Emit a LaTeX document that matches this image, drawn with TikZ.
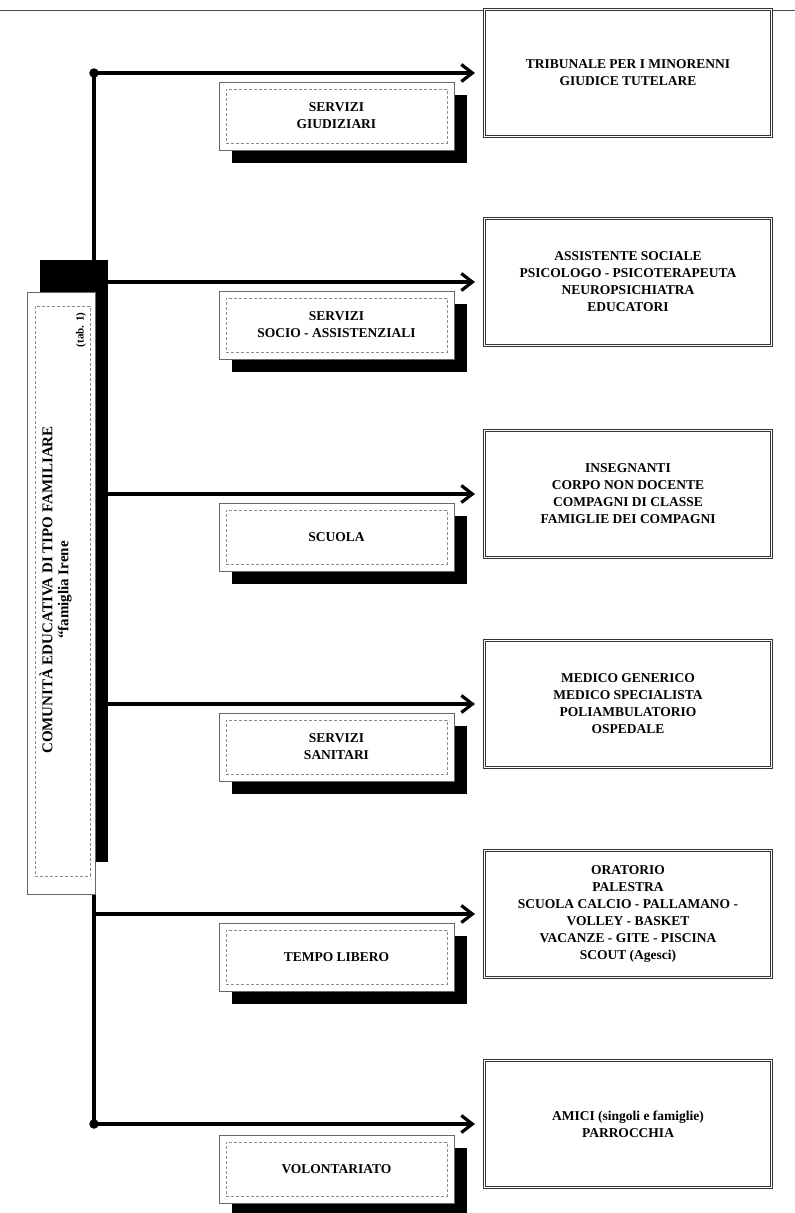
\documentclass[tikz,border=0pt]{standalone}
\usepackage{fontspec}
\setmainfont{Liberation Serif}
\usetikzlibrary{arrows.meta,shadows}
\begin{document}
\begin{tikzpicture}[x=1pt,y=-1pt,
  every node/.style={font=\bfseries\fontsize{13.5}{17}\selectfont, inner sep=0pt},
  conn/.style={line width=3.2pt, black},
  arr/.style={conn, -{Straight Barb[length=11pt,width=17pt]}, shorten >=9pt},
  catbox/.style={draw=black!60, line width=0.8pt, fill=white, minimum width=235pt, minimum height=68pt,
    drop shadow={shadow xshift=13pt, shadow yshift=-13pt, opacity=1, fill=black}},
  catin/.style={draw=black!45, densely dashed, line width=0.5pt, minimum width=221pt, minimum height=54pt, align=center},
  resbox/.style={draw=black!80, line width=1.1pt, double=white, double distance=1.6pt,
    minimum width=287pt, minimum height=127pt, align=center},
  dot/.style={circle, fill=black, minimum size=9.5pt}
]
\useasboundingbox (0,0) rectangle (795,1213);
\draw[black!70, line width=0.8pt] (0,10) -- (795,10);

% result boxes
\node[resbox] (r1) at (628,73) {TRIBUNALE PER I MINORENNI\\GIUDICE TUTELARE};
\node[resbox] (r2) at (628,282) {ASSISTENTE SOCIALE\\PSICOLOGO - PSICOTERAPEUTA\\NEUROPSICHIATRA\\EDUCATORI};
\node[resbox] (r3) at (628,494) {INSEGNANTI\\CORPO NON DOCENTE\\COMPAGNI DI CLASSE\\FAMIGLIE DEI COMPAGNI};
\node[resbox] (r4) at (628,704) {MEDICO GENERICO\\MEDICO SPECIALISTA\\POLIAMBULATORIO\\OSPEDALE};
\node[resbox] (r5) at (628,914) {ORATORIO\\PALESTRA\\SCUOLA CALCIO - PALLAMANO -\\VOLLEY - BASKET\\VACANZE - GITE - PISCINA\\SCOUT (Agesci)};
\node[resbox] (r6) at (628,1124) {AMICI (singoli e famiglie)\\PARROCCHIA};

% trunk coordinates
\coordinate (j1) at (94,73);
\coordinate (j2) at (94,282);
\coordinate (j3) at (94,494);
\coordinate (j4) at (94,704);
\coordinate (j5) at (94,914);
\coordinate (j6) at (94,1124);

\draw[conn] (j1) -- (j6);
\foreach \i in {1,...,6}{
  \draw[arr] (j\i) -- (r\i.west);
}

% main box
\node[draw=black!60, line width=0.8pt, fill=white, minimum width=68pt, minimum height=602pt,
  drop shadow={shadow xshift=13pt, shadow yshift=32pt, opacity=1, fill=black}] (main) at (61,593) {};
\node[draw=black!45, densely dashed, line width=0.5pt, minimum width=55pt, minimum height=570pt] (mainin) at (62.5,591) {};
\node[rotate=90, align=center, font=\bfseries\fontsize{15}{16}\selectfont] (maintext) at (55.5,590) {COMUNITÀ EDUCATIVA DI TIPO FAMILIARE\\“famiglia Irene};
\node[rotate=90, font=\bfseries\fontsize{11}{12}\selectfont] (tab) at (81,330) {(tab. 1)};

% category boxes
\node[catbox] (c1) at (336.5,116) {};
\node[catin] (c1t) at (c1) {SERVIZI\\GIUDIZIARI};
\node[catbox] (c2) at (336.5,325) {};
\node[catin] (c2t) at (c2) {SERVIZI\\SOCIO - ASSISTENZIALI};
\node[catbox] (c3) at (336.5,537) {};
\node[catin] (c3t) at (c3) {SCUOLA};
\node[catbox] (c4) at (336.5,747) {};
\node[catin] (c4t) at (c4) {SERVIZI\\SANITARI};
\node[catbox] (c5) at (336.5,957) {};
\node[catin] (c5t) at (c5) {TEMPO LIBERO};
\node[catbox] (c6) at (336.5,1169) {};
\node[catin] (c6t) at (c6) {VOLONTARIATO};

% junction dots
\node[dot] (dot1) at (j1) {};
\node[dot] (dot6) at (j6) {};
\end{tikzpicture}
\end{document}
